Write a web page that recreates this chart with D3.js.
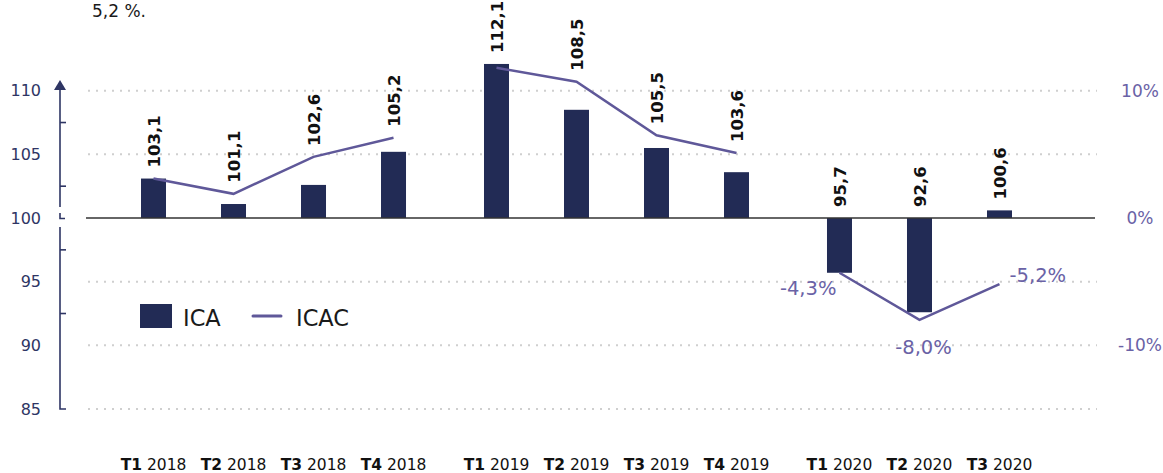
<!DOCTYPE html>
<html><head><meta charset="utf-8">
<script src="https://cdn.jsdelivr.net/npm/d3@7"></script>
<style>body{margin:0;background:#fff}svg{display:block;font-family:"DejaVu Sans",sans-serif}</style>
</head><body><svg id="c" width="1163" height="473"></svg>
<script>
const years = ["2018","2019","2020"];
const quarters = ["T1","T2","T3","T4"];
const periods = [["T1","2018"],["T2","2018"],["T3","2018"],["T4","2018"],["T1","2019"],["T2","2019"],["T3","2019"],["T4","2019"],["T1","2020"],["T2","2020"],["T3","2020"]];
const icaValues = [103.1,101.1,102.6,105.2,112.1,108.5,105.5,103.6,95.7,92.6,100.6];
const icacValues = [3.1,1.9,4.8,6.3,11.8,10.7,6.5,5.1,-4.3,-8.0,-5.2];
const icaLabels = ["103,1","101,1","102,6","105,2","112,1","108,5","105,5","103,6","95,7","92,6","100,6"];
const icacLabels = {8:"-4,3%",9:"-8,0%",10:"-5,2%"};
const leftTicks = [85,90,95,100,105,110];
const minorTicks = [92.5,97.5,102.5,107.5];
const rightTicks = [-10,0,10];
const rightTickLabels = ["-10%","0%","10%"];

const svg = d3.select("#c");
const navy = "#222b55", purple = "#5f5899", axisCol = "#2e3564", labPurple = "#6a62a6";

const xYear = d3.scaleBand().domain(years).range([113.5, 1119.5]).paddingInner(0.067).paddingOuter(0);
const xQ = d3.scaleBand().domain(quarters).range([0, xYear.bandwidth()]).paddingInner(0.6875).paddingOuter(0.34375);
const xc = i => xYear(periods[i][1]) + xQ(periods[i][0]) + xQ.bandwidth()/2;
const y = d3.scaleLinear().domain([85,110]).range([409, 90.7]);
const yR = d3.scaleLinear().domain([-10,10]).range([y(90), y(110)]);

// top text fragment
svg.append("text").attr("x",92).attr("y",17).attr("font-size",17).attr("fill","#1a1a1a").text("5,2 %.");

// grid
const gx0 = 88, gx1 = 1097;
svg.append("g").selectAll("line").data(leftTicks.filter(d=>d!==100)).join("line")
  .attr("x1",gx0).attr("x2",gx1).attr("y1",d=>y(d)).attr("y2",d=>y(d))
  .attr("stroke","#cfcfcf").attr("stroke-width",2).attr("stroke-dasharray","2 6");

// bars
svg.append("g").selectAll("rect").data(icaValues).join("rect")
  .attr("x",(d,i)=>xc(i)-12.5).attr("width",25)
  .attr("y",d=>y(Math.max(d,100))).attr("height",d=>Math.abs(y(d)-y(100)))
  .attr("fill",navy);

// zero line
svg.append("line").attr("x1",86).attr("x2",1095).attr("y1",y(100)).attr("y2",y(100)).attr("stroke","#333").attr("stroke-width",1.5);

// lines per year
const line = d3.line().x(d=>xc(d.i)).y(d=>yR(d.v));
years.forEach(yr=>{
  const pts = icacValues.map((v,i)=>({v,i})).filter(d=>periods[d.i][1]===yr);
  svg.append("path").attr("d",line(pts)).attr("fill","none").attr("stroke",purple).attr("stroke-width",2.5);
});

// value labels
svg.append("g").selectAll("text").data(icaValues).join("text")
  .attr("transform",(d,i)=>{
    const top = Math.min(y(Math.max(d,100)), yR(icacValues[i]), y(100));
    return `translate(${xc(i)+1},${Math.max(top-11, 53)}) rotate(-90)`;
  })
  .attr("dy","0.36em").attr("font-size",16.5).attr("font-weight","bold").attr("fill","#111")
  .text((d,i)=>icaLabels[i]);

// ICAC labels for 2020
const icacPos = {8:{dx:-3,dy:22,a:"end"},9:{dx:4,dy:34,a:"middle"},10:{dx:10,dy:-2,a:"start"}};
Object.keys(icacLabels).forEach(k=>{
  const i=+k, p=icacPos[k];
  svg.append("text").attr("x",xc(i)+p.dx).attr("y",yR(icacValues[i])+p.dy).attr("text-anchor",p.a)
    .attr("font-size",19.5).attr("fill",labPurple).text(icacLabels[k]);
});

// left axis
const ax = svg.append("g").attr("stroke",axisCol).attr("stroke-width",1.6).attr("fill","none");
ax.append("line").attr("x1",60).attr("x2",60).attr("y1",88).attr("y2",y(100)-11);
ax.append("path").attr("d",`M60,${y(100)-5}V${y(100)+0.5}H65`);
ax.append("path").attr("d",`M60,${y(100)+9}V${y(85)}H66`);
svg.append("path").attr("d",`M54,90L60,80L66,90Z`).attr("fill",axisCol);
ax.selectAll("line.m").data(minorTicks).join("line").attr("class","m")
  .attr("x1",60).attr("x2",66).attr("y1",d=>y(d)).attr("y2",d=>y(d));
svg.append("g").selectAll("text").data(leftTicks).join("text")
  .attr("x",41).attr("y",d=>y(d)).attr("dy","0.36em").attr("text-anchor","end")
  .attr("font-size",16).attr("fill",axisCol).text(d=>d);

// right axis labels
svg.append("g").selectAll("text").data(rightTicks).join("text")
  .attr("x",1140).attr("y",d=>yR(d)).attr("dy","0.36em").attr("text-anchor","middle")
  .attr("font-size",17).attr("fill",labPurple).text((d,i)=>rightTickLabels[i]);

// x labels
const xl = svg.append("g").selectAll("text").data(periods).join("text")
  .attr("x",(d,i)=>xc(i)).attr("y",470).attr("text-anchor","middle").attr("font-size",15.5).attr("fill","#111");
xl.append("tspan").attr("font-weight","bold").text(d=>d[0]);
xl.append("tspan").text(d=>" "+d[1]);

// legend
svg.append("rect").attr("x",140).attr("y",304).attr("width",32).attr("height",24).attr("fill",navy);
svg.append("text").attr("x",183).attr("y",325.5).attr("font-size",22.5).attr("fill","#1a1a1a").text("ICA");
svg.append("line").attr("x1",253).attr("x2",281).attr("y1",316).attr("y2",316).attr("stroke",purple).attr("stroke-width",3).attr("stroke-linecap","round");
svg.append("text").attr("x",296).attr("y",325.5).attr("font-size",22.5).attr("fill","#1a1a1a").text("ICAC");
</script></body></html>
